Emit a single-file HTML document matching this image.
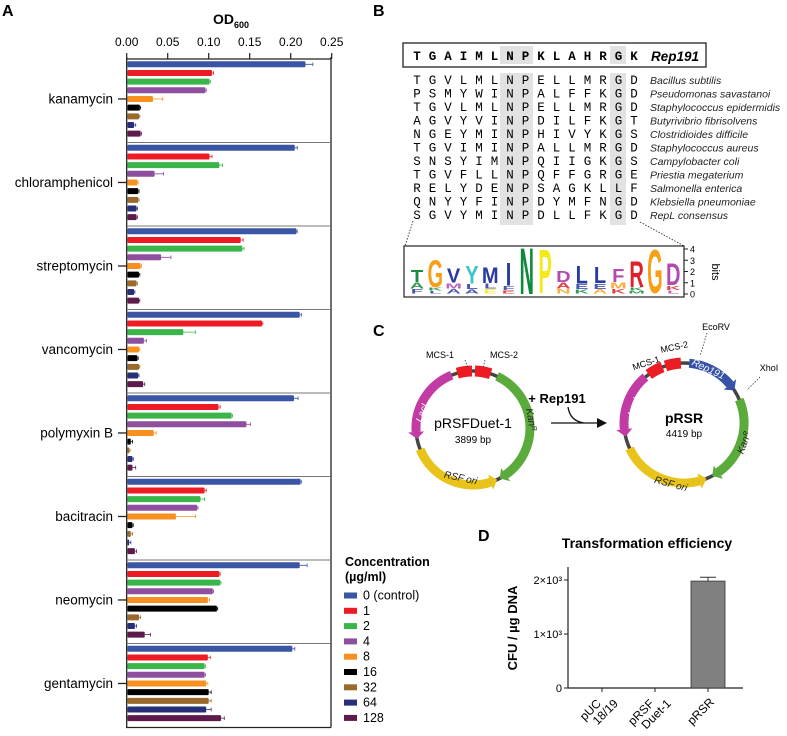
<!DOCTYPE html>
<html><head><meta charset="utf-8"><style>
html,body{margin:0;padding:0;background:#fff;}
svg{display:block;font-family:"Liberation Sans",sans-serif;}
.mono{font-family:"Liberation Mono",monospace;font-size:12.5px;}
.sp{font-style:italic;font-size:10.5px;fill:#222;}
</style></head><body>
<svg id="fig" width="787" height="736" viewBox="0 0 787 736">
<g id="pa">
<text x="2" y="16" font-size="16" font-weight="bold">A</text>
<text x="213" y="24" font-size="14" font-weight="bold">OD<tspan font-size="9" dy="4">600</tspan></text>
</g>
<g id="pb">
<text x="373" y="16" font-size="16" font-weight="bold">B</text>
<rect x="403" y="43" width="303" height="24" fill="none" stroke="#222" stroke-width="1.3"/>
</g>
<g id="pc">
<text x="373" y="336" font-size="16" font-weight="bold">C</text>
</g>
<g id="pd">
<text x="478" y="541" font-size="16" font-weight="bold">D</text>
<text x="647" y="548" font-size="14" font-weight="bold" text-anchor="middle">Transformation efficiency</text>
<text transform="translate(517,628) rotate(-90)" font-size="13" font-weight="bold" text-anchor="middle">CFU / µg DNA</text>
</g>
</svg>
<script>
// ---------- Panel A data ----------
const antibiotics = ["kanamycin","chloramphenicol","streptomycin","vancomycin","polymyxin B","bacitracin","neomycin","gentamycin"];
const concentrations = ["0 (control)","1","2","4","8","16","32","64","128"];
const odValues = [
 [0.218,0.104,0.101,0.096,0.032,0.016,0.015,0.009,0.017],
 [0.205,0.101,0.113,0.034,0.013,0.014,0.014,0.012,0.012],
 [0.207,0.139,0.141,0.042,0.017,0.015,0.012,0.009,0.015],
 [0.211,0.165,0.069,0.021,0.015,0.013,0.015,0.014,0.020],
 [0.204,0.112,0.128,0.146,0.033,0.005,0.003,0.007,0.007],
 [0.212,0.095,0.090,0.086,0.060,0.007,0.005,0.003,0.010],
 [0.211,0.113,0.114,0.105,0.099,0.110,0.015,0.010,0.022],
 [0.202,0.099,0.095,0.095,0.097,0.100,0.100,0.097,0.115]];
const odErrors = [
 [0.009,0.002,0.001,0.001,0.012,0.001,0.001,0.002,0.001],
 [0.003,0.003,0.004,0.011,0.001,0.001,0.001,0.001,0.001],
 [0.001,0.003,0.002,0.012,0.001,0.001,0.001,0.001,0.001],
 [0.002,0.001,0.015,0.003,0.001,0.001,0.001,0.001,0.002],
 [0.005,0.002,0.001,0.005,0.003,0.002,0.001,0.001,0.004],
 [0.001,0.002,0.005,0.001,0.024,0.001,0.002,0.002,0.002],
 [0.009,0.001,0.001,0.001,0.002,0.001,0.002,0.002,0.007],
 [0.003,0.003,0.001,0.001,0.002,0.003,0.003,0.006,0.004]];
const odTicks = [0,0.05,0.10,0.15,0.20,0.25];
const odTickLabels = ["0.00","0.05","0.10","0.15","0.20","0.25"];
// ---------- Panel D data ----------
const plasmids = ["pUC 18/19","pRSF Duet-1","pRSR"];
const cfuValues = [0,0,1980];
const cfuErrors = [0,0,70];
const cfuTicks = [0,1000,2000];
const cfuTickLabels = ["0","1×10³","2×10³"];

const NS="http://www.w3.org/2000/svg";
function mk(tag,attrs,parent,txt){const e=document.createElementNS(NS,tag);for(const k in attrs)e.setAttribute(k,attrs[k]);if(txt!==undefined)e.textContent=txt;parent.appendChild(e);return e;}
const colors=["#3a55a4","#ed1c24","#3ab54a","#8e4f9f","#f7901e","#000000","#9a6a2d","#262f78","#5e1a4d"];

// Panel A
const pa=document.getElementById('pa');
const x0=126.7, xk=820, topY=59, gh=83.5, pitch=8.67;
const xA=v=>x0+v*xk;
const gY=g=>topY+g*gh;
odTicks.forEach((t,i)=>{
 let l=mk('line',{x1:xA(t),x2:xA(t),y1:53,y2:59,stroke:'#222','stroke-width':1.2},pa);
 
 
 let tx=mk('text',{x:xA(t),y:46,'font-size':12,'text-anchor':'middle'},pa,odTickLabels[i]);
 
 
});
let ax=mk('path',{d:`M${x0} 59 H331 M${x0} 57 V727.5 H331 M331 57 V727.5`,stroke:'#222','stroke-width':1.3,fill:'none'},pa);


antibiotics.forEach((ab,g)=>{
 if(g>0){let s=mk('line',{x1:x0,x2:331,y1:gY(g),y2:gY(g),stroke:'#777','stroke-width':0.9},pa);
  
  }
 const cy=gY(g)+5.3+4*pitch;
 let tk=mk('line',{x1:118,x2:x0,y1:cy,y2:cy,stroke:'#222','stroke-width':1.3},pa);
 
 
 let lb=mk('text',{x:113,y:cy+4.5,'font-size':13.5,'text-anchor':'end'},pa,ab);
 
 
 odValues[g].forEach((v,i)=>{
  const by=gY(g)+5.3+i*pitch;
  let r=mk('rect',{x:x0+0.8,y:by-3,width:Math.max(0,xA(v)-x0-0.8),height:6,fill:colors[i],rx:1},pa);
  
  
  const e=odErrors[g][i];
  let eb=mk('path',{d:`M${xA(v)} ${by} H${xA(v+e)} M${xA(v+e)} ${by-1.8} V${by+1.8}`,stroke:colors[i],'stroke-width':0.8,fill:'none'},pa);
  
  
 });
});
// legend
let lt=mk('text',{x:345,y:566,'font-size':12.5,'font-weight':'bold'},pa,'Concentration');


let lt2=mk('text',{x:345,y:581,'font-size':12.5,'font-weight':'bold'},pa,'(µg/ml)');


concentrations.forEach((c,i)=>{
 const y=595+i*15.3;
 let g=mk('g',{},pa);
 
 
 mk('rect',{x:344,y:y-2.5,width:13,height:6,fill:colors[i]},g);
 mk('text',{x:363,y:y+4.5,'font-size':12.5},g,c);
});

// Panel B
const pb=document.getElementById('pb');
const refSeq="TGAIMLNPKLAHRGK";
const seqs=["TGVLMLNPELLMRGD","PSMYWINPALFFKGD","TGVLMLNPELLMRGD","AGVYVINPDILFKGT","NGEYMINPHIVYKGS","TGVIMINPALLMRGD","SNSYIMNPQIIGKGS","TGVFLLNPQFFGRGE","RELYDENPSAGKLLF","QNYYFINPDYMFNGD","SGVYMINPDLLFKGD"];
const species=["Bacillus subtilis","Pseudomonas savastanoi","Staphylococcus epidermidis","Butyrivibrio fibrisolvens","Clostridioides difficile","Staphylococcus aureus","Campylobacter coli","Priestia megaterium","Salmonella enterica","Klebsiella pneumoniae","RepL consensus"];
const colX=i=>417+i*15.5;
[[500,533],[610,626]].forEach(([a,b])=>{mk('rect',{x:a,y:73,width:b-a,height:152,fill:'#e2e2e2'},pb);});
[[500,533],[610,626]].forEach(([a,b])=>{mk('rect',{x:a,y:46,width:b-a,height:18,fill:'#e2e2e2'},pb);});
[...refSeq].forEach((ch,i)=>{mk('text',{x:colX(i),y:60,'text-anchor':'middle',class:'mono','font-weight':'bold'},pb,ch);});
let rt=mk('text',{x:651,y:61,'font-size':13.5,'font-weight':'bold','font-style':'italic'},pb,'Rep191');


seqs.forEach((s,r)=>{
 const y=84+r*13.5;
 let g=mk('g',{},pb);
 
 
 [...s].forEach((ch,i)=>mk('text',{x:colX(i),y:y,'text-anchor':'middle',class:'mono'},g,ch));
 mk('text',{x:650,y:y,class:'sp'},g,species[r]);
});
mk('path',{d:'M413 221 L405 246 M640 222 L684 246',stroke:'#333','stroke-width':0.9,'stroke-dasharray':'1.5,1.5',fill:'none'},pb);
let lbx=mk('rect',{x:404,y:246,width:280,height:51,fill:'none',stroke:'#222','stroke-width':1.2},pb);


const logoTop="TGVYMINPDLLFRGD";
const logoSub="AKMLLFLAAEEMKNK";
const logoCols=["#1b8a3c","#f6a01a","#2a3aa0","#3ac6c6","#2a3aa0","#2a3aa0","#0e8a3c","#f2ea1a","#b24bb0","#2a3aa0","#2a3aa0","#b24bb0","#e0202a","#f6a01a","#b24bb0"];
const subCols=["#1b8a3c","#0e8a3c","#b24bb0","#2a3aa0","#2a3aa0","#2a3aa0","#2a3aa0","#f2ea1a","#e0202a","#2a3aa0","#2a3aa0","#f6a01a","#0e8a3c","#f6a01a","#e0202a"];
const logoH=[1.1,2.5,1.3,1.6,1.4,2.1,4.2,4.0,1.0,1.6,1.5,1.2,2.4,4.0,2.0];
const bitY=v=>294-v*11.25;
function logoLetter(ch,cx,base,h,col,op){const fs=20, sy=h/(0.72*fs), sx=17/(0.72*fs);
 mk('text',{x:0,y:0,'font-size':fs,'font-weight':'bold',fill:col,opacity:op,'text-anchor':'middle',transform:`translate(${cx+8},${base}) scale(${sx*0.85},${sy})`},pb,ch);}
logoTop.split('').forEach((ch,i)=>{
 const cx=409+i*18.3, h=bitY(0)-bitY(logoH[i]);
 const base=bitY(0)-Math.min(12,(4.2-logoH[i])*4);
 logoLetter(ch,cx,base,h,logoCols[i],1);
 const rem=293.5-base;
 if(rem>2){logoLetter(logoSub[i],cx,base+rem*0.55,rem*0.5,subCols[i],0.85);
  logoLetter(logoSub[(i+5)%15],cx,293.5,rem*0.42,subCols[(i+3)%15],0.85);}
});
[0,1,2,3,4].forEach(v=>{mk('line',{x1:684,x2:688,y1:bitY(v),y2:bitY(v),stroke:'#222'},pb);mk('text',{x:690,y:bitY(v)+3.5,'font-size':9},pb,String(v));});
mk('text',{transform:'translate(712,272) rotate(90)','font-size':11,'text-anchor':'middle'},pb,'bits');

// Panel C plasmids
const pc=document.getElementById('pc');
function pt(cx,cy,r,a){const t=(a-90)*Math.PI/180;return [cx+r*Math.cos(t),cy+r*Math.sin(t)];}
function arcP(cx,cy,r,a1,a2,col,w,nm){const p1=pt(cx,cy,r,a1),p2=pt(cx,cy,r,a2);const large=Math.abs(a2-a1)>180?1:0;const sw=a2>a1?1:0;
 let e=mk('path',{d:`M${p1[0]} ${p1[1]} A${r} ${r} 0 ${large} ${sw} ${p2[0]} ${p2[1]}`,stroke:col,'stroke-width':w,fill:'none'},pc);
 
 return e;}
function headP(cx,cy,r,a,dir,col){const tip=pt(cx,cy,r,a+dir*7),o=pt(cx,cy,r+8,a),i=pt(cx,cy,r-8,a);mk('polygon',{points:`${tip.join(',')} ${o.join(',')} ${i.join(',')}`,fill:col},pc);}
function feat(cx,cy,r,from,to,col,nm){arcP(cx,cy,r,from,to,col,9,nm);headP(cx,cy,r,to,to>from?1:-1,col);}
function plasmid(cx,cy,r,set){mk('circle',{cx:cx,cy:cy,r:r,fill:'none',stroke:'#444','stroke-width':3.5},pc);set.forEach(s=>{if(s[4])feat(cx,cy,r,s[0],s[1],s[2],s[3]);else arcP(cx,cy,r,s[0],s[1],s[2],11,s[3]);});}
plasmid(473,428,57,[[-16,-1,'#ed1c24','mcs-1'],[2,18,'#ed1c24','mcs-2'],[25,145,'#5aaa3c','kan-r',1],[248,162,'#e8c31a','rsf-ori',1],[338,266,'#c23aa4','laci',1]]);
plasmid(684,423,60,[[-36,-21,'#ed1c24','mcs-1b'],[-18,-3,'#ed1c24','mcs-2b'],[5,50,'#3652a8','rep191',1],[67,145,'#5aaa3c','kan-r-b',1],[245,165,'#e8c31a','rsf-ori-b',1],[320,264,'#c23aa4','laci-b',1]]);
const ct=[[473,428,'pRSFDuet-1',14,'normal'],[473,443,'3899 bp',10,'normal'],[684,423,'pRSR',14,'bold'],[684,437,'4419 bp',10,'normal']];
ct.forEach(c=>{let t=mk('text',{x:c[0],y:c[1],'font-size':c[3],'font-weight':c[4],'text-anchor':'middle'},pc,c[2]);});
[[440,358,'MCS-1'],[504,358,'MCS-2'],[647,366,'MCS-1',-18],[675,350,'MCS-2',-12],[716,330,'EcoRV'],[769,371,'XhoI']].forEach(c=>{mk('text',{x:c[0],y:c[1],'font-size':9,'text-anchor':'middle',transform:c[3]?`rotate(${c[3]} ${c[0]} ${c[1]})`:'rotate(0)'},pc,c[2]);});
mk('path',{d:'M465 360 L468 368 M485 360 L483 368 M707 333 L700 356 M760 377 L747 390',stroke:'#333','stroke-width':0.8,'stroke-dasharray':'1.5,1.5',fill:'none'},pc);
[[425,414,'LacI',-70],[528,420,'Kanᴿ',80],[460,481,'RSF ori',12],[637,408,'LacI',-70],[747,444,'Kanᴿ',-70],[670,487,'RSF ori',15],[707,372,'Rep191',25]].forEach(c=>{mk('text',{x:c[0],y:c[1],'font-size':10,'font-style':'italic','text-anchor':'middle',fill:(c[2]=='Rep191'||c[2]=='LacI')?'#fff':'#222',transform:`rotate(${c[3]} ${c[0]} ${c[1]})`},pc,c[2]);});
let ar=mk('text',{x:557,y:403,'font-size':13,'font-weight':'bold','text-anchor':'middle'},pc,'+ Rep191');


mk('path',{d:'M551 423 H600 M568 407 Q570 421 584 423',stroke:'#111','stroke-width':1.3,fill:'none'},pc);
mk('polygon',{points:'607,423 597,418 597,428',fill:'#111'},pc);

// Panel D
const pd=document.getElementById('pd');
const yD=v=>688-v*0.054; const xD=i=>602+i*53;
let da=mk('path',{d:'M568 567 V688 H743',stroke:'#222','stroke-width':1.2,fill:'none'},pd);


cfuTicks.forEach((t,i)=>{mk('line',{x1:564,x2:568,y1:yD(t),y2:yD(t),stroke:'#222'},pd);
 let l=mk('text',{x:562,y:yD(t)+4,'font-size':11,'text-anchor':'end'},pd,cfuTickLabels[i]);
 
 });
plasmids.forEach((p,i)=>{
 mk('line',{x1:xD(i),x2:xD(i),y1:688,y2:692,stroke:'#222'},pd);
 if(cfuValues[i]>0){let b=mk('rect',{x:xD(i)-17,y:yD(cfuValues[i]),width:34,height:688-yD(cfuValues[i]),fill:'#808080',stroke:'#333','stroke-width':0.8},pd);
  
  
  mk('path',{d:`M${xD(i)} ${yD(cfuValues[i])} V${yD(cfuValues[i]+cfuErrors[i])} M${xD(i)-8} ${yD(cfuValues[i]+cfuErrors[i])} H${xD(i)+8}`,stroke:'#333','stroke-width':1,fill:'none'},pd);}
 const parts=p.split(' ');
 let t=mk('text',{transform:`translate(${xD(i)+4},${700}) rotate(-45)`,'font-size':12,'text-anchor':'end'},pd);
 
 
 if(parts.length>1){mk('tspan',{x:-6,y:0},t,parts[0]);mk('tspan',{x:6,dy:12},t,parts[1]);}
 else mk('tspan',{x:0,y:4},t,p);
});
</script>
</body></html>
